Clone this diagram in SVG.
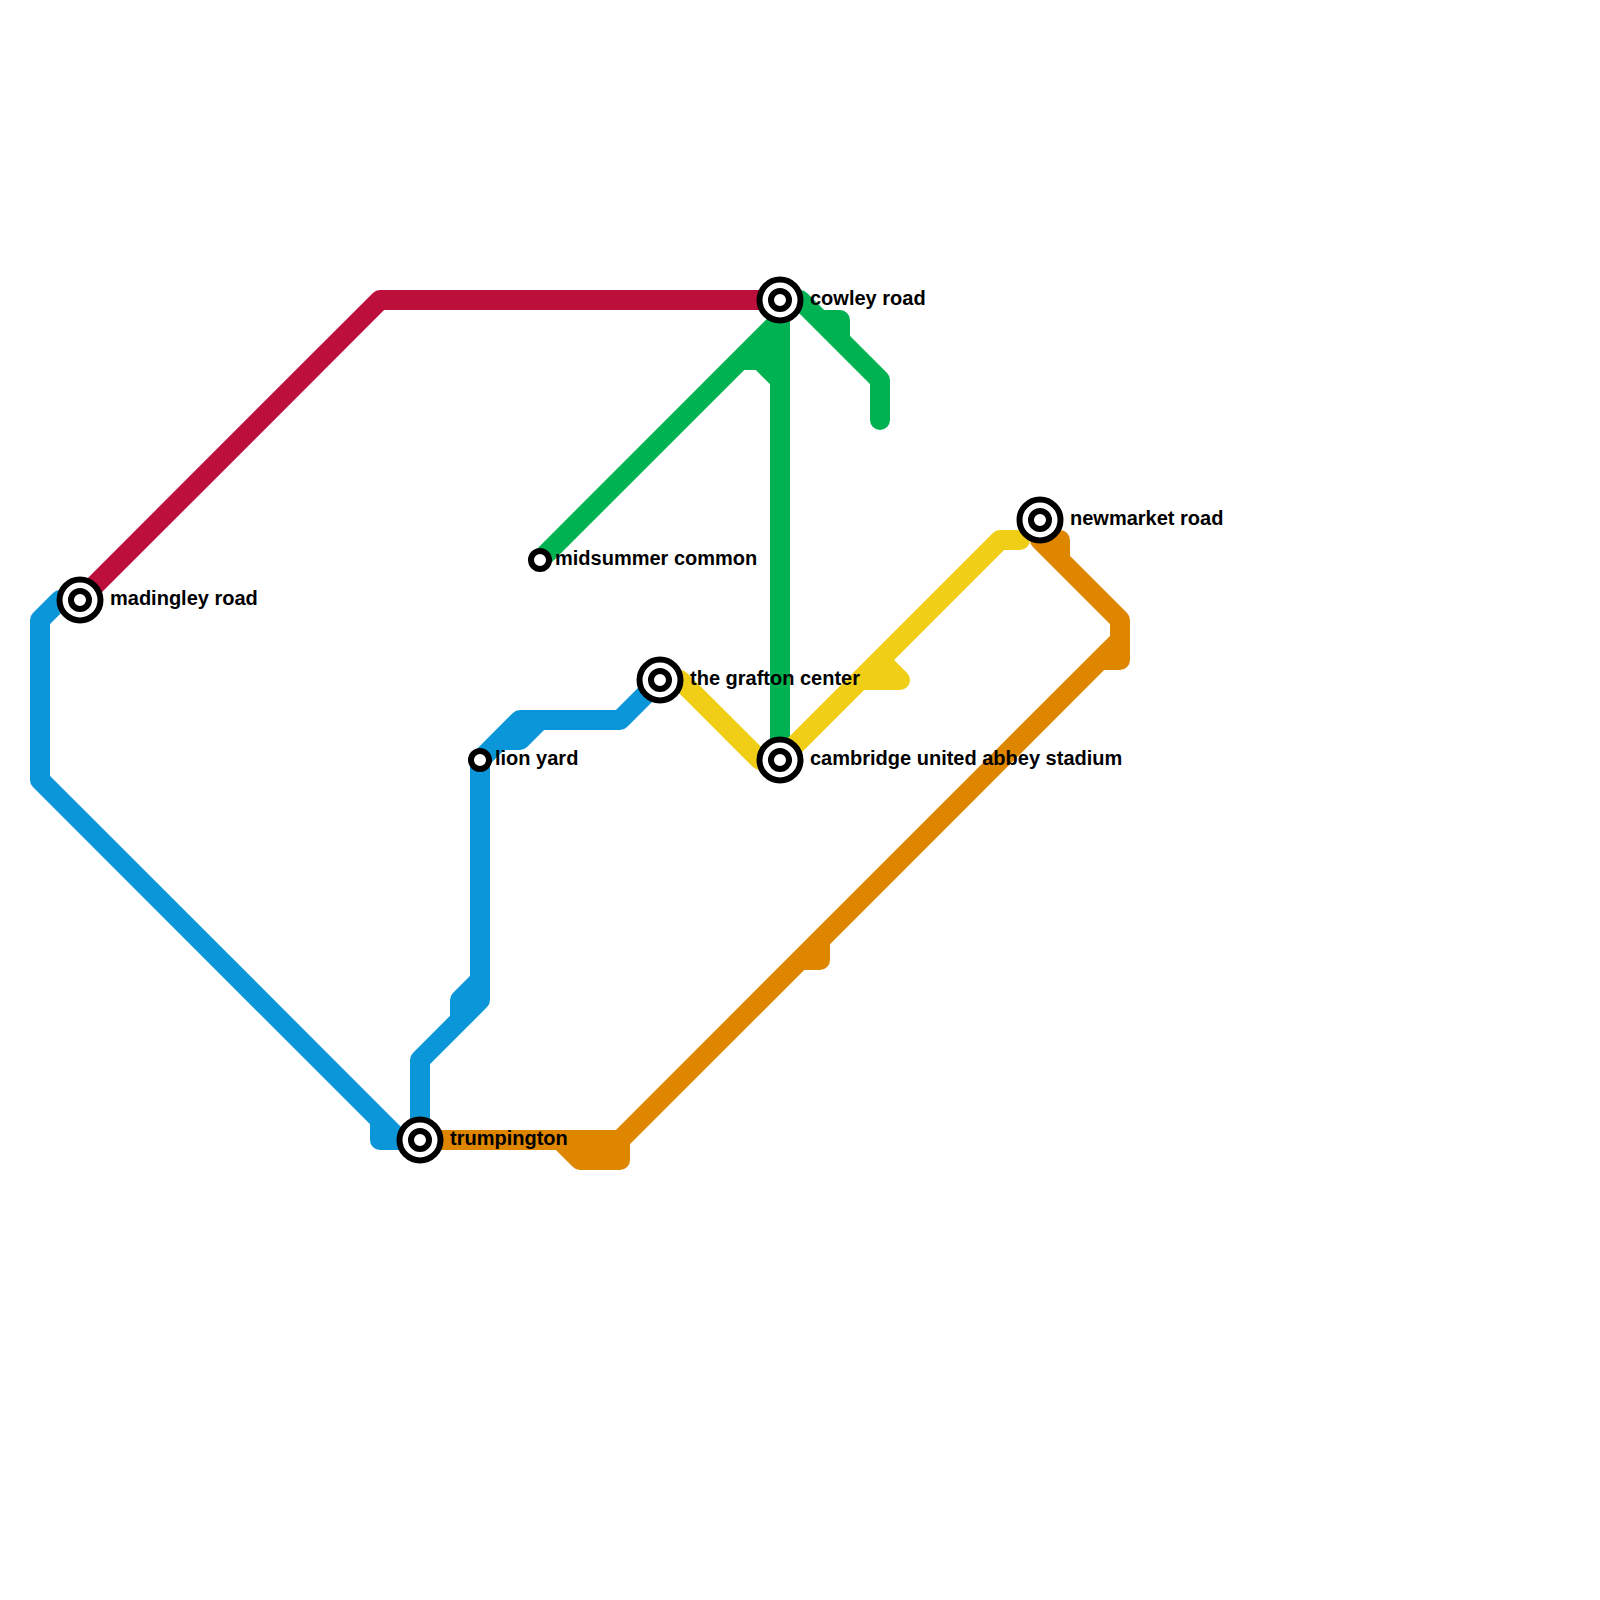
<svg xmlns="http://www.w3.org/2000/svg" width="1600" height="1600" viewBox="0 0 1600 1600">
<style>
.l{fill:none;stroke-width:20;stroke-linecap:round;stroke-linejoin:round}
.red{stroke:#bd0f3c}.blue{stroke:#0a96d8}.green{stroke:#00b251}.yellow{stroke:#f0ce15}.orange{stroke:#df8600}
.o{fill:#fff;stroke:#000;stroke-width:6}
text{font-family:"Liberation Sans",Arial,sans-serif;font-weight:700;font-size:20px;fill:#000}
</style>
<defs>
<g id="big"><circle r="20.5" class="o"/><circle r="9" class="o"/></g>
<g id="small"><circle r="9" class="o"/></g>
</defs>
<rect width="1600" height="1600" fill="#fff"/>
<g id="connectors">
<path class="l red" d="M80 600L380 300H780"/>
<path class="l blue" d="M80 600H60L40 620V780L400 1140H420M380 1120V1140H420M420 1140V1060L480 1000V760M460 1020V1000L480 980M480 760L520 720H620L660 680M500 740H520L540 720"/>
<path class="l green" d="M540 560L780 320M780 300V760M740 360H760L780 380M760 340L780 360M780 300H800L880 380V420M820 320H840V340"/>
<path class="l yellow" d="M660 680H680L760 760H780L1000 540H1020M860 680H900L880 660"/>
<path class="l orange" d="M420 1140H620L1120 640M560 1140L580 1160H620V1140M800 960H820V940M1040 520V540L1120 620V660H1100M1040 540H1060V560"/>
</g>
<g id="madingley-road"><use href="#big" x="80" y="600"/><text x="110" y="605">madingley road</text></g>
<g id="cowley-road"><use href="#big" x="780" y="300"/><text x="810" y="305">cowley road</text></g>
<g id="newmarket-road"><use href="#big" x="1040" y="520"/><text x="1070" y="525">newmarket road</text></g>
<g id="midsummer-common"><use href="#small" x="540" y="560"/><text x="555" y="565">midsummer common</text></g>
<g id="the-grafton-center"><use href="#big" x="660" y="680"/><text x="690" y="685">the grafton center</text></g>
<g id="lion-yard"><use href="#small" x="480" y="760"/><text x="495" y="765">lion yard</text></g>
<g id="cambridge-united-abbey-stadium"><use href="#big" x="780" y="760"/><text x="810" y="765">cambridge united abbey stadium</text></g>
<g id="trumpington"><use href="#big" x="420" y="1140"/><text x="450" y="1145">trumpington</text></g>
</svg>
